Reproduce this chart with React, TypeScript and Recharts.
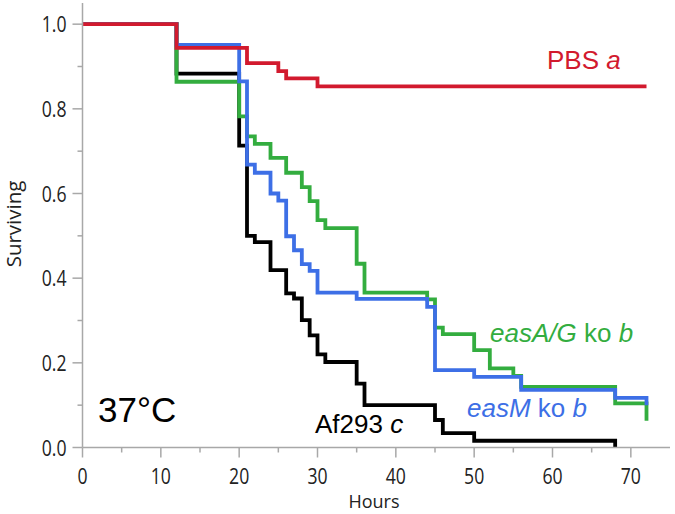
import { Line, LineChart, XAxis, YAxis } from "recharts"

// Kaplan-Meier survival, 37°C
const pbsHours = [0, 12, 21, 25, 26, 30, 72]
const pbsSurv = [1, 0.944, 0.908, 0.889, 0.872, 0.853, 0.853]

const easMHours = [0, 12, 20, 21, 22, 24, 25, 26, 27, 28, 29, 30, 35, 44, 45, 50, 56, 68, 72]
const easMSurv = [
  1, 0.951, 0.865, 0.668, 0.649, 0.6, 0.583, 0.499, 0.466, 0.433, 0.417, 0.366, 0.351, 0.332,
  0.183, 0.167, 0.136, 0.117, 0.1,
]

const easAGHours = [0, 12, 20, 21, 22, 24, 26, 28, 29, 30, 31, 35, 36, 44, 45, 46, 50, 52, 55, 56, 68, 72]
const easAGSurv = [
  1, 0.864, 0.782, 0.735, 0.717, 0.684, 0.649, 0.615, 0.582, 0.537, 0.518, 0.434, 0.366, 0.35,
  0.283, 0.268, 0.23, 0.187, 0.169, 0.143, 0.104, 0.063,
]

const afHours = [0, 12, 20, 21, 22, 24, 26, 27, 28, 29, 30, 31, 35, 36, 45, 46, 50, 68]
const afSurv = [
  1, 0.883, 0.713, 0.5, 0.485, 0.419, 0.364, 0.352, 0.301, 0.265, 0.22, 0.202, 0.151, 0.1, 0.065,
  0.034, 0.016, 0,
]

const xTicks = [0, 5, 10, 15, 20, 25, 30, 35, 40, 45, 50, 55, 60, 65, 70]
const yTicks = [0, 0.1, 0.2, 0.3, 0.4, 0.5, 0.6, 0.7, 0.8, 0.9, 1.0]

const RED = "#d21a2e"
const GREEN = "#33ad3f"
const BLUE = "#3d6fe6"
const FRAME = "#a8a8a8"
const tickFont = "'Open Sans', sans-serif"
const labelFont = "'Liberation Sans', Arial, sans-serif"
const LW = 3.8

const zip = (t: number[], s: number[]) => t.map((h, i) => ({ t: h, s: s[i] }))

const pbsData = zip(pbsHours, pbsSurv)
const easMData = zip(easMHours, easMSurv)
const easAGData = zip(easAGHours, easAGSurv)
const afData = zip(afHours, afSurv)

// tick labels in the reference are tall and narrow
const NarrowText = ({ x, y, anchor, children }: any) => (
  <text
    transform={`translate(${x},${y}) scale(0.82,1)`}
    textAnchor={anchor}
    fontSize={21.5}
    fontFamily={tickFont}
    fill="#222"
  >
    {children}
  </text>
)

const XTick = ({ x, y, payload }: any) => {
  const major = payload.value % 10 === 0
  return (
    <g>
      <line x1={x} x2={x} y1={y} y2={y + (major ? 10 : 5)} stroke={FRAME} strokeWidth={1.5} />
      {major && (
        <NarrowText x={x} y={y + 36} anchor="middle">
          {payload.value}
        </NarrowText>
      )}
    </g>
  )
}

const YTick = ({ x, y, payload }: any) => {
  const major = Math.round(payload.value * 10) % 2 === 0
  return (
    <g>
      <line x1={x} x2={x - (major ? 10 : 5)} y1={y} y2={y} stroke={FRAME} strokeWidth={1.5} />
      {major && (
        <NarrowText x={x - 16} y={y + 8} anchor="end">
          {payload.value.toFixed(1)}
        </NarrowText>
      )}
    </g>
  )
}

export default function App() {
  return (
    <div style={{ position: "absolute", left: 0, top: 0, width: 675, height: 514, background: "#fff" }}>
      <LineChart width={675} height={514} margin={{ top: 3, right: 5, left: 0, bottom: 26.5 }}>
        <XAxis
          dataKey="t"
          type="number"
          domain={[0, 75]}
          ticks={xTicks}
          interval={0}
          tickSize={0}
          tickMargin={0}
          height={40}
          axisLine={{ stroke: FRAME, strokeWidth: 1.5 }}
          tickLine={false}
          tick={<XTick />}
        />
        <XAxis
          xAxisId="top"
          orientation="top"
          type="number"
          domain={[0, 75]}
          height={0}
          tick={false}
          tickLine={false}
          axisLine={{ stroke: FRAME, strokeWidth: 1.5 }}
        />
        <YAxis
          type="number"
          domain={[0, 1.05]}
          ticks={yTicks}
          interval={0}
          tickSize={0}
          tickMargin={0}
          width={82.5}
          axisLine={{ stroke: FRAME, strokeWidth: 1.5 }}
          tickLine={false}
          tick={<YTick />}
        />
        <YAxis
          yAxisId="right"
          orientation="right"
          type="number"
          domain={[0, 1.05]}
          width={0}
          tick={false}
          tickLine={false}
          axisLine={{ stroke: FRAME, strokeWidth: 1.5 }}
        />
        <Line data={afData} dataKey="s" type="stepAfter" stroke="#000" strokeWidth={LW} dot={false} activeDot={false} isAnimationActive={false} />
        <Line data={easAGData} dataKey="s" type="stepAfter" stroke={GREEN} strokeWidth={LW} dot={false} activeDot={false} isAnimationActive={false} />
        <Line data={easMData} dataKey="s" type="stepAfter" stroke={BLUE} strokeWidth={LW} dot={false} activeDot={false} isAnimationActive={false} />
        <Line data={pbsData} dataKey="s" type="stepAfter" stroke={RED} strokeWidth={LW} dot={false} activeDot={false} isAnimationActive={false} />
      </LineChart>
      <svg width={675} height={514} style={{ position: "absolute", left: 0, top: 0, pointerEvents: "none" }}>
        <g fontFamily={labelFont} fontSize={26}>
          <text x={547} y={69} fill={RED}>
            PBS <tspan fontStyle="italic">a</tspan>
          </text>
          <text x={490} y={342} fill={GREEN}>
            <tspan fontStyle="italic">easA/G</tspan> ko <tspan fontStyle="italic">b</tspan>
          </text>
          <text x={467} y={417} fill={BLUE}>
            <tspan fontStyle="italic">easM</tspan> ko <tspan fontStyle="italic">b</tspan>
          </text>
          <text x={315} y={433} fill="#000">
            Af293 <tspan fontStyle="italic">c</tspan>
          </text>
          <text x={98} y={422} fill="#000" fontSize={35}>
            37°C
          </text>
        </g>
        <text x={374} y={508} textAnchor="middle" fontSize={18} fontFamily={tickFont} fill="#222">
          Hours
        </text>
        <text
          x={21}
          y={224}
          textAnchor="middle"
          fontSize={20.5}
          fontFamily={tickFont}
          fill="#222"
          transform="rotate(-90, 21, 224)"
        >
          Surviving
        </text>
      </svg>
    </div>
  )
}
